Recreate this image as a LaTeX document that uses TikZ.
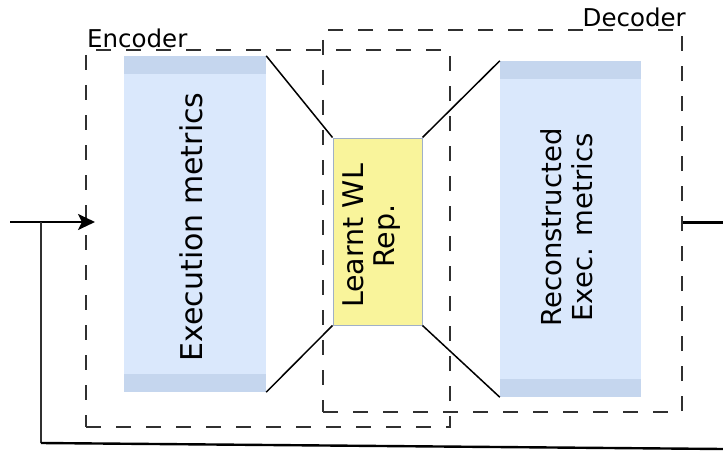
\documentclass[tikz,border=0pt]{standalone}
\usepackage{fontspec}
\setmainfont{DejaVu Sans}
\usetikzlibrary{arrows.meta}

\definecolor{metricfill}{RGB}{218,232,252}
\definecolor{metricband}{RGB}{197,214,238}
\definecolor{repfill}{RGB}{249,244,155}
\definecolor{repedge}{RGB}{160,176,200}
\definecolor{groupline}{RGB}{48,48,48}

\tikzset{
  groupbox/.style={draw=groupline, line width=2pt, dash pattern=on 15pt off 15pt,
    inner sep=0pt, minimum width=#1},
  metricbox/.style={fill=metricfill, inner sep=0pt, minimum width=142pt, minimum height=336pt,
    path picture={
      \fill[metricband] (path picture bounding box.north west) rectangle
        ([yshift=-18pt]path picture bounding box.north east);
      \fill[metricband] (path picture bounding box.south west) rectangle
        ([yshift=18pt]path picture bounding box.south east);
    }},
  repbox/.style={fill=repfill, draw=repedge, line width=1pt, inner sep=0pt,
    minimum width=89pt, minimum height=187pt},
  vlabel/.style={rotate=90, align=center, inner sep=0pt},
  glabel/.style={font=\fontsize{24.5}{28}\selectfont, inner sep=0pt},
  funnel/.style={line width=1.5pt, black},
  feed/.style={line width=2.4pt, black},
}

\begin{document}
\begin{tikzpicture}[x=1pt,y=-1pt]
  \useasboundingbox (0,0) rectangle (723,452);

  % encoder and decoder groups
  \node[groupbox=364pt, minimum height=377pt] (encbox) at (268,238.5) {};
  \node[groupbox=359pt, minimum height=382pt] (decbox) at (502.5,221) {};
  \node[glabel, anchor=base west] (enclabel) at (87,48) {Encoder};
  \node[glabel, anchor=base east] (declabel) at (686,27) {Decoder};

  % metric blocks and the learnt representation
  \node[metricbox] (enc) at (195,224) {};
  \node[metricbox, minimum width=141pt] (dec) at (570.5,229) {};
  \node[repbox] (lat) at (377.5,231.5) {};

  \node[vlabel, font=\fontsize{30}{34}\selectfont] (enctext) at (191,227) {Execution metrics};
  \node[vlabel, font=\fontsize{27.5}{31}\selectfont] (dectext) at (567,227.5) {Reconstructed\\Exec. metrics};
  \node[vlabel, font=\fontsize{28.5}{31}\selectfont] (lattext) at (372,236) {Learnt WL\\Rep.};

  % funnel lines between the blocks
  \draw[funnel] (enc.north east) -- (lat.north west);
  \draw[funnel] (enc.south east) -- (lat.south west);
  \draw[funnel] (lat.north east) -- (dec.north west);
  \draw[funnel] (lat.south east) -- (dec.south west);

  % input, output and feedback path
  \coordinate (in) at (10,222);
  \coordinate (tap) at (41,222);
  \coordinate (fb) at (41,443);
  \coordinate (fbend) at (723,449);
  \coordinate (out) at (723,222);
  \draw[line width=2.6pt, -{Stealth[length=17pt, width=16pt, inset=4pt]}]
    (in) -- ([xshift=10pt]in -| encbox.west);
  \draw[line width=1.8pt, groupline] (tap) -- (fb);
  \draw[feed] (fb) -- (fbend);
  \draw[line width=3pt] (in -| decbox.east) -- (out);
\end{tikzpicture}
\end{document}
